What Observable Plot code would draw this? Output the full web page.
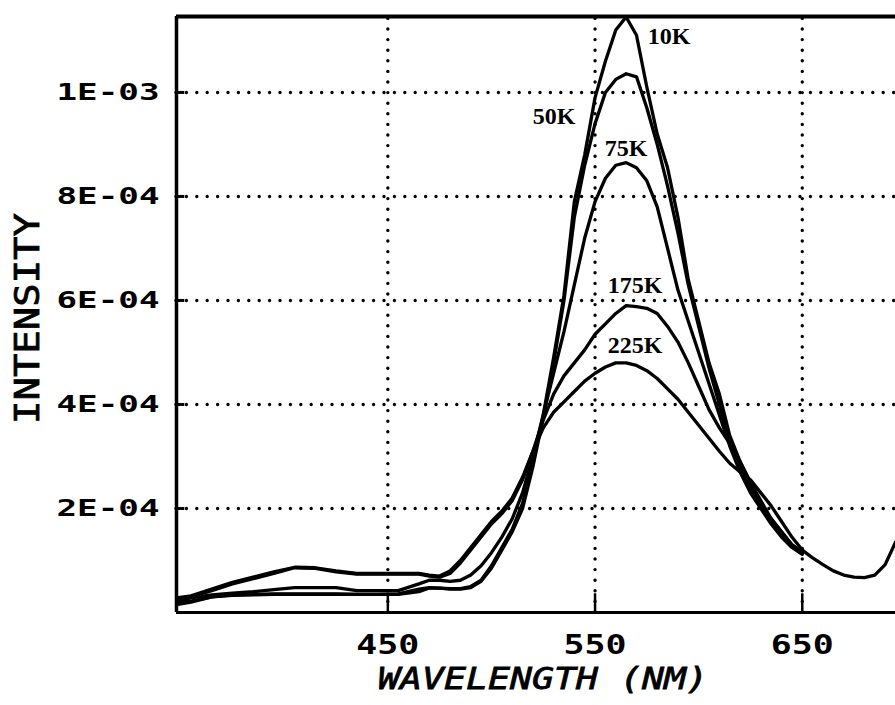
<!DOCTYPE html>
<html><head><meta charset="utf-8">
<script src="https://cdn.jsdelivr.net/npm/d3@7"></script>
<script src="https://cdn.jsdelivr.net/npm/@observablehq/plot@0.6"></script>
<style>body{margin:0;background:#fff}</style>
</head><body><div id="chart"></div>
<script>
// wavelength (nm)
const wavelength = [348,355,365,375,385,395,405,415,425,435,445,455,465,
  470,475,480,485,490,495,500,505,510,515,520,525,530,535,540,545,550,555,560,565,570,575,580,585,590,595,600,605,610,615,620,625,630,635,640,645,650,
  655,660,665,670,675,680,685,690,695];
// intensities in units of 1E-04
const i10K = [0.15,0.2,0.3,0.33,0.34,0.35,0.35,0.35,0.35,0.35,0.35,0.35,0.4,
  0.47,0.47,0.46,0.46,0.5,0.62,0.9,1.25,1.6,2.1,2.9,3.8,4.9,6.1,7.9,8.8,9.9,10.6,11.2,11.45,11.1,10.1,9.2,8.55,7.6,6.4,5.6,4.8,4.2,3.4,2.9,2.5,2.1,1.8,1.55,1.3,1.15,
  null,null,null,null,null,null,null,null,null];
const i50K = [0.2,0.22,0.3,0.34,0.35,0.36,0.36,0.36,0.36,0.35,0.35,0.36,0.45,
  0.48,0.47,0.45,0.45,0.48,0.6,0.85,1.2,1.55,2.0,2.8,3.75,4.8,6.0,7.6,8.6,9.4,10.0,10.25,10.36,10.3,9.7,9.0,8.2,7.3,6.3,5.5,4.7,4.0,3.3,2.8,2.4,2.05,1.75,1.5,1.3,1.15,
  null,null,null,null,null,null,null,null,null];
const i75K = [0.22,0.28,0.34,0.37,0.4,0.44,0.48,0.48,0.48,0.42,0.42,0.42,0.55,
  0.62,0.62,0.6,0.62,0.72,0.9,1.15,1.45,1.8,2.3,3.0,3.8,4.6,5.4,6.3,7.2,7.9,8.35,8.6,8.65,8.55,8.3,7.8,7.0,6.2,5.6,5.0,4.4,3.8,3.2,2.7,2.3,2.0,1.7,1.45,1.25,1.12,
  null,null,null,null,null,null,null,null,null];
const i175K = [0.25,0.3,0.42,0.55,0.65,0.75,0.86,0.85,0.78,0.74,0.74,0.74,0.74,
  0.7,0.68,0.75,0.95,1.2,1.45,1.7,1.9,2.15,2.55,3.1,3.7,4.2,4.55,4.8,5.05,5.35,5.55,5.75,5.9,5.88,5.85,5.75,5.5,5.2,4.8,4.35,3.9,3.55,3.25,2.9,2.5,2.15,1.8,1.55,1.3,1.15,
  null,null,null,null,null,null,null,null,null];
const i225K = [0.28,0.32,0.45,0.58,0.68,0.78,0.87,0.86,0.8,0.75,0.75,0.75,0.75,
  0.72,0.7,0.8,1.0,1.25,1.5,1.75,1.95,2.2,2.6,3.1,3.55,3.85,4.05,4.25,4.45,4.6,4.72,4.8,4.8,4.75,4.65,4.5,4.3,4.1,3.85,3.6,3.35,3.1,2.87,2.7,2.55,2.3,2.05,1.75,1.45,1.2,
  1.05,0.92,0.8,0.72,0.68,0.67,0.72,0.92,1.35];
const unit = 1e-4;
const seriesNames = ["10K","50K","75K","175K","225K"];
const seriesValues = [i10K, i50K, i75K, i175K, i225K];
// curve label anchor positions (nm, intensity)
const labelX = [585.7, 530.2, 565.0, 569.3, 569.3];
const labelY = [11.08e-4, 9.54e-4, 8.92e-4, 6.29e-4, 5.13e-4];
const xTicks = [450, 550, 650];
const xTickLabels = ["450", "550", "650"];
const yTicks = [2e-4, 4e-4, 6e-4, 8e-4, 1e-3];
const yTickLabels = ["2E-04", "4E-04", "6E-04", "8E-04", "1E-03"];
const xTitle = "WAVELENGTH (NM)";
const yTitle = "INTENSITY";
const xDomain = [348, 695];
const yDomain = [0, 1.146e-3];

const rows = [];
seriesNames.forEach((s, k) => {
  seriesValues[k].forEach((v, i) => {
    if (v != null) rows.push({wl: wavelength[i], y: v * unit, series: s});
  });
});
const labels = seriesNames.map((s, i) => ({name: s, x: labelX[i], y: labelY[i]}));

const mono = "DejaVu Sans Mono";
const chart = Plot.plot({
  width: 895, height: 705,
  marginLeft: 176, marginTop: 16, marginRight: 0, marginBottom: 93,
  x: {domain: xDomain},
  y: {domain: yDomain},
  style: {background: "#fff", color: "#000"},
  marks: [
    Plot.ruleY(yTicks, {x1: xDomain[0], x2: xDomain[1], stroke: "#000", strokeWidth: 3.4, strokeDasharray: "0,10.4", strokeLinecap: "round"}),
    Plot.ruleX(xTicks, {y1: yDomain[0], y2: yDomain[1], stroke: "#000", strokeWidth: 3.4, strokeDasharray: "0,10.6", strokeLinecap: "round"}),
    Plot.ruleX(xTicks, {y1: 0, y2: 0.36e-4, stroke: "#000", strokeWidth: 2.5}),
    Plot.ruleY(yTicks, {x1: xDomain[0], x2: xDomain[0] + 4, stroke: "#000", strokeWidth: 3}),
    Plot.line(rows, {x: "wl", y: "y", z: "series", stroke: "#000", strokeWidth: 3.3, clip: true}),
    Plot.ruleY([yDomain[0]], {stroke: "#000", strokeWidth: 3}),
    Plot.ruleY([yDomain[1]], {stroke: "#000", strokeWidth: 4}),
    Plot.ruleX([xDomain[0]], {stroke: "#000", strokeWidth: 3.5}),
    Plot.text(labels, {x: "x", y: "y", text: "name", fontFamily: "Liberation Serif", fontSize: 24, fontWeight: "bold", fill: "#000"}),
    Plot.axisX(xTicks, {tickFormat: d => xTickLabels[xTicks.indexOf(d)], tickSize: 0, tickPadding: 22, fontSize: 27, fontWeight: "bold", fontFamily: mono, label: null}),
    Plot.axisY(yTicks, {tickFormat: d => yTickLabels[yTicks.indexOf(d)], tickSize: 0, tickPadding: 17, fontSize: 23, fontWeight: "bold", fontFamily: mono, label: null}),
    Plot.text([xTitle], {frameAnchor: "bottom", lineAnchor: "middle", textAnchor: "middle", text: d => d, dx: 7, dy: 67, fontSize: 31, fontStyle: "italic", fontFamily: mono, fill: "#000"}),
    Plot.text([yTitle], {frameAnchor: "left", lineAnchor: "middle", textAnchor: "middle", text: d => d, dx: -148, dy: 4, rotate: -90, fontSize: 33, fontFamily: mono, fill: "#000"})
  ]
});
document.getElementById("chart").appendChild(chart);

// stretch plotter-style lettering to the widths of the original
const svg = d3.select(chart);
svg.selectAll('[aria-label="y-axis tick label"] text').attr("textLength", 103).attr("lengthAdjust", "spacingAndGlyphs");
svg.selectAll('[aria-label="x-axis tick label"] text').attr("textLength", 63).attr("lengthAdjust", "spacingAndGlyphs");
svg.selectAll('text').filter(function() { return this.textContent === xTitle; }).attr("textLength", 330).attr("lengthAdjust", "spacingAndGlyphs").style("stroke", "#000").style("stroke-width", "0.8px");
svg.selectAll('text').filter(function() { return this.textContent === yTitle; }).attr("textLength", 211).attr("lengthAdjust", "spacingAndGlyphs").style("stroke", "#000").style("stroke-width", "0.8px");
</script>
</body></html>
